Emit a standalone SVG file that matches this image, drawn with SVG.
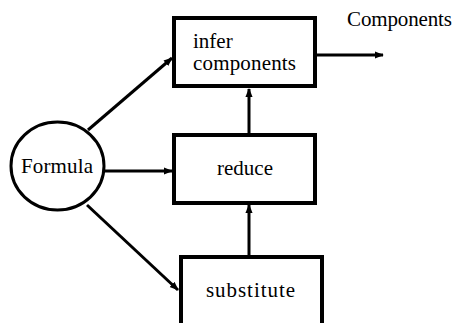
<svg xmlns="http://www.w3.org/2000/svg" width="457" height="323" viewBox="0 0 457 323">
<defs>
<style>
.box{fill:#fff;stroke:#000;stroke-width:4}
.ln{fill:none;stroke:#000;stroke-width:3}
.t{font-family:"Liberation Serif","Times New Roman",serif;font-size:21px;fill:#000}
</style>
<marker id="ah" viewBox="0 0 10 10" refX="9" refY="5" markerWidth="3" markerHeight="3" orient="auto" markerUnits="strokeWidth">
<path d="M0,1 L10,5 L0,9 Z" fill="#000"/>
</marker>
</defs>
<rect width="457" height="323" fill="#fff"/>
<g id="connectors">
<line class="ln" x1="88" y1="130" x2="172" y2="58" marker-end="url(#ah)"/>
<line class="ln" x1="105" y1="171" x2="172" y2="171" marker-end="url(#ah)"/>
<line class="ln" x1="87" y1="205" x2="178" y2="290" marker-end="url(#ah)"/>
<line class="ln" x1="249" y1="135" x2="249" y2="89" marker-end="url(#ah)"/>
<line class="ln" x1="249" y1="257" x2="249" y2="205" marker-end="url(#ah)"/>
<line class="ln" x1="315" y1="55" x2="383" y2="55" marker-end="url(#ah)"/>
</g>
<g id="formula">
<ellipse cx="57.5" cy="166" rx="46.5" ry="44" fill="#fff" stroke="#000" stroke-width="3"/>
<text class="t" x="21" y="173" textLength="72" lengthAdjust="spacing">Formula</text>
</g>
<g id="infer">
<rect class="box" x="174" y="18" width="141" height="68"/>
<text class="t" x="193" y="48">infer</text>
<text class="t" x="193" y="70" textLength="103" lengthAdjust="spacing">components</text>
</g>
<g id="reduce">
<rect class="box" x="174" y="135" width="141" height="68"/>
<text class="t" x="217" y="175" textLength="56" lengthAdjust="spacing">reduce</text>
</g>
<g id="substitute">
<path class="box" d="M181,330 L181,257 L322,257 L322,330"/>
<text class="t" x="206" y="297" textLength="89" lengthAdjust="spacing">substitute</text>
</g>
<g id="output">
<text class="t" x="347" y="26" textLength="105" lengthAdjust="spacing">Components</text>
</g>
</svg>
